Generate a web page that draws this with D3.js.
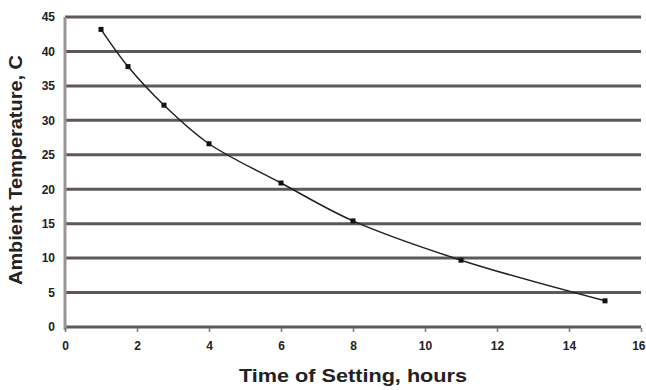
<!DOCTYPE html>
<html>
<head>
    <script src="https://d3js.org/d3.v7.min.js"></script>
    <style>
        body { margin: 0; background: white; }
        text { font-family: "Liberation Sans", Arial, sans-serif; font-weight: bold; fill: #222; }
    </style>
</head>
<body>
    <div class="container"></div>
    <script>
        let hours = [1, 1.75, 2.75, 4, 6, 8, 11, 15];
        let temps = [43.2, 37.8, 32.2, 26.6, 20.9, 15.4, 9.7, 3.8];
        let xTicks = [0, 2, 4, 6, 8, 10, 12, 14, 16];
        let yTicks = [0, 5, 10, 15, 20, 25, 30, 35, 40, 45];

        let svg = d3.select(".container").append("svg").attr("width", 646).attr("height", 390);

        let x = d3.scaleLinear().domain([0, 16]).range([65, 641]);
        let y = d3.scaleLinear().domain([0, 45]).range([327, 17]);

        // grid lines
        svg.append("g").selectAll("line")
            .data(yTicks)
            .enter().append("line")
            .attr("x1", x(0)).attr("x2", x(16))
            .attr("y1", d => y(d)).attr("y2", d => y(d))
            .attr("stroke", "#5e5858")
            .attr("stroke-width", 3);

        // left axis line
        svg.append("line")
            .attr("x1", x(0)).attr("x2", x(0))
            .attr("y1", y(45)).attr("y2", y(0) + 3)
            .attr("stroke", "#9a9494")
            .attr("stroke-width", 3);

        let yAxis = svg.append("g")
            .attr("transform", "translate(" + x(0) + ",0)")
            .call(d3.axisLeft(y).tickValues(yTicks).tickSize(0).tickPadding(10));
        yAxis.select(".domain").remove();
        yAxis.selectAll("text").style("font-size", "12px");

        let xAxis = svg.append("g")
            .attr("transform", "translate(0," + (y(0) + 1) + ")")
            .call(d3.axisBottom(x).tickValues(xTicks).tickSize(4).tickPadding(9));
        xAxis.select(".domain").remove();
        xAxis.selectAll("line").attr("stroke", "#777").attr("stroke-width", 1.5);
        xAxis.selectAll("text").style("font-size", "12px")
            .filter(d => d == 16).attr("text-anchor", "end").attr("dx", 4);

        let line = d3.line()
            .x((d, i) => x(hours[i]))
            .y(d => y(d))
            .curve(d3.curveCatmullRom);

        svg.append("path")
            .datum(temps)
            .attr("d", line)
            .attr("fill", "none")
            .attr("stroke", "#222")
            .attr("stroke-width", 1.5);

        svg.append("g").selectAll("rect")
            .data(temps)
            .enter().append("rect")
            .attr("x", (d, i) => x(hours[i]) - 2.5)
            .attr("y", d => y(d) - 2.5)
            .attr("width", 5).attr("height", 5)
            .attr("fill", "#111");

        svg.append("text")
            .text("Time of Setting, hours")
            .attr("x", 353)
            .attr("y", 382)
            .attr("text-anchor", "middle")
            .attr("textLength", 228)
            .attr("lengthAdjust", "spacingAndGlyphs")
            .style("font-size", "18px");

        svg.append("text")
            .text("Ambient Temperature, C")
            .attr("transform", "translate(22,170) rotate(-90)")
            .attr("text-anchor", "middle")
            .attr("textLength", 230)
            .attr("lengthAdjust", "spacingAndGlyphs")
            .style("font-size", "18px");
    </script>
</body>
</html>
